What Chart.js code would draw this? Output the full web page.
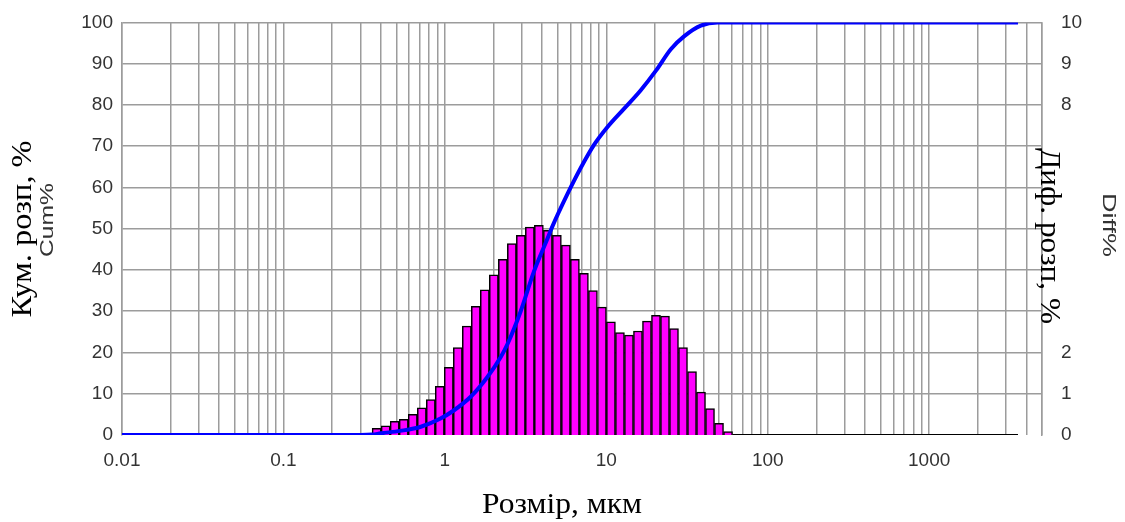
<!DOCTYPE html>
<html>
<head>
<meta charset="utf-8">
<script src="https://cdn.jsdelivr.net/npm/chart.js@4.4.1/dist/chart.umd.min.js"></script>
<style>
  html, body { margin: 0; padding: 0; background: #fff; }
  canvas { display: block; }
</style>
</head>
<body>
<canvas id="psd" width="1125" height="522"></canvas>
<script>
// particle size bins (centre of each channel, um)
const binSizes = [0.378, 0.430, 0.489, 0.556, 0.633, 0.720, 0.818, 0.930, 1.058, 1.203,
  1.368, 1.555, 1.768, 2.011, 2.287, 2.600, 2.956, 3.361, 3.822, 4.346,
  4.942, 5.618, 6.390, 7.266, 8.263, 9.396, 10.68, 12.15, 13.81, 15.71,
  17.86, 20.31, 23.10, 26.26, 29.86, 33.96, 38.61, 43.90, 49.92, 56.77];
// differential distribution, %
const diffValues = [0.16, 0.22, 0.33, 0.38, 0.50, 0.66, 0.86, 1.18, 1.64, 2.12,
  2.64, 3.12, 3.52, 3.88, 4.26, 4.64, 4.84, 5.04, 5.08, 4.96,
  4.84, 4.60, 4.26, 3.92, 3.50, 3.10, 2.74, 2.48, 2.42, 2.52,
  2.76, 2.90, 2.88, 2.58, 2.12, 1.54, 1.04, 0.64, 0.28, 0.08];
// empty channels above the last bin
const diffTailSizes = [60.5, 3550];
const diffTailValues = [0, 0];

// cumulative distribution, %
const cumSizes = [0.01, 0.3, 0.355, 0.40, 0.53, 0.71, 0.94, 1.14, 1.44, 1.83, 2.21, 2.44,
  2.95, 3.56, 4.31, 4.63, 5.73, 6.94, 8.39, 10.2, 12.9, 16.3, 20.3, 25.1, 30.3, 38.5, 48.9, 3550];
const cumValues = [0, 0, 0.1, 0.4, 1.0, 2.0, 4.0, 6.0, 9.2, 14, 18.8, 22,
  30, 39.6, 47.5, 50.5, 58.3, 64.7, 70.3, 74.7, 79.1, 83.5, 88.3, 93.5, 96.6, 99.2, 100, 100];

const xTickLabels = ['0.01', '0.1', '1', '10', '100', '1000'];
const hiddenDiffTicks = [3, 4, 5, 6, 7];

const gridColor = '#9c9c9c';
const tickFont = { family: '"Liberation Sans", Arial, sans-serif', size: 19 };

function drawText(ctx, str, x, y, angle, font, color, length) {
  ctx.save();
  ctx.translate(x, y);
  ctx.rotate(angle);
  ctx.font = font;
  ctx.fillStyle = color;
  ctx.textAlign = 'center';
  ctx.textBaseline = 'middle';
  if (length) ctx.scale(length / ctx.measureText(str).width, 1);
  ctx.fillText(str, 0, 0);
  ctx.restore();
}

const axisTitles = {
  id: 'axisTitles',
  afterDraw(chart) {
    const ctx = chart.ctx;
    const serif = '30px "Liberation Serif", "Times New Roman", serif';
    const sans = '19px "Liberation Sans", Arial, sans-serif';
    drawText(ctx, 'Кум. розп, %', 23, 229, -Math.PI / 2, serif, '#000', 177);
    drawText(ctx, 'Cum%', 48, 220, -Math.PI / 2, sans, '#333', 74);
    drawText(ctx, 'Диф. розп, %', 1049, 236, Math.PI / 2, serif, '#000', 176);
    drawText(ctx, 'Diff%', 1108, 225, Math.PI / 2, sans, '#333', 64);
    drawText(ctx, 'Розмір, мкм', 562, 505, 0, serif, '#000', 160);
  }
};

const gridTicks = [];
[0.01, 0.1, 1, 10, 100, 1000].forEach(d => {
  for (let m = 1; m <= 9; m++) {
    if (d * m <= 5000) gridTicks.push(d * m);
  }
});

new Chart(document.getElementById('psd'), {
  data: {
    datasets: [
      {
        type: 'line',
        label: 'Cum%',
        data: cumSizes.map((s, i) => ({ x: s, y: cumValues[i] })),
        yAxisID: 'y',
        borderColor: '#0000ff',
        borderWidth: 4,
        pointRadius: 0,
        cubicInterpolationMode: 'monotone',
        order: 0
      },
      {
        type: 'line',
        label: 'tail',
        data: diffTailSizes.map((s, i) => ({ x: s, y: diffTailValues[i] })),
        yAxisID: 'y2',
        borderColor: '#000',
        borderWidth: 2,
        pointRadius: 0,
        order: 1
      },
      {
        type: 'bar',
        label: 'Diff%',
        data: binSizes.map((s, i) => ({ x: s, y: diffValues[i] })),
        yAxisID: 'y2',
        backgroundColor: '#ff00ff',
        borderColor: '#000',
        borderWidth: 1.5,
        barThickness: 'flex',
        categoryPercentage: 1,
        barPercentage: 1,
        order: 2
      }
    ]
  },
  options: {
    responsive: false,
    animation: false,
    layout: { padding: { top: 18, left: 0, right: 0, bottom: 0 } },
    plugins: { legend: { display: false }, tooltip: { enabled: false } },
    scales: {
      x: {
        type: 'logarithmic',
        min: 0.01,
        max: 5000,
        offset: false,
        afterBuildTicks: scale => { scale.ticks = gridTicks.map(v => ({ value: v })); },
        afterFit: scale => { scale.height = 87; },
        grid: { color: gridColor, lineWidth: 1.5, drawTicks: false, offset: false },
        border: { display: false },
        ticks: {
          autoSkip: false,
          maxRotation: 0,
          padding: 14,
          color: '#333',
          font: tickFont,
          callback: v => {
            const lbl = xTickLabels.find(l => Math.abs(Math.log10(v) - Math.log10(parseFloat(l))) < 1e-6);
            return lbl || '';
          }
        }
      },
      y: {
        position: 'left',
        min: 0,
        max: 100,
        afterFit: scale => { scale.width = 122; },
        grid: {
          color: ctx => ctx.tick && ctx.tick.value === 0 ? 'rgba(0,0,0,0)' : gridColor,
          lineWidth: 1.5,
          drawTicks: false
        },
        border: { color: gridColor, width: 1.5 },
        ticks: { stepSize: 10, padding: 9, color: '#333', font: tickFont }
      },
      y2: {
        position: 'right',
        min: 0,
        max: 10,
        afterFit: scale => { scale.width = 83; },
        grid: { display: false },
        border: { color: gridColor, width: 1.5 },
        ticks: {
          stepSize: 1,
          padding: 11,
          color: '#333',
          font: tickFont,
          callback: v => hiddenDiffTicks.includes(v) ? '' : String(v)
        }
      }
    }
  },
  plugins: [axisTitles]
});
</script>
</body>
</html>
